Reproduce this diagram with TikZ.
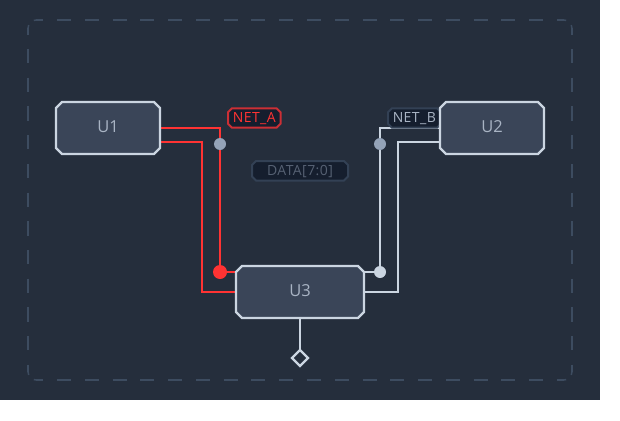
\documentclass[tikz,border=0pt]{standalone}
\usepackage{fontspec}
\setmainfont{Open Sans}
\newfontfamily\tagfont[LetterSpace=3]{Open Sans}
\definecolor{bgc}{HTML}{252E3C}
\definecolor{framec}{HTML}{3D4C60}
\definecolor{boxfill}{HTML}{3A4558}
\definecolor{boxline}{HTML}{CBD5E1}
\definecolor{boxtext}{HTML}{A9B4C4}
\definecolor{redw}{HTML}{FF3333}
\definecolor{redtag}{HTML}{CC2F35}
\definecolor{tagfill}{HTML}{151E2E}
\definecolor{tagline}{HTML}{334155}
\definecolor{greydot}{HTML}{94A3B8}
\definecolor{datatext}{HTML}{566173}
\newcommand\chamfer[5]{({#1+#5},#2) -- ({#3-#5},#2) -- (#3,{#2+#5}) -- (#3,{#4-#5}) -- ({#3-#5},#4) -- ({#1+#5},#4) -- (#1,{#4-#5}) -- (#1,{#2+#5}) -- cycle}
\tikzset{
  x=1pt,y=-1pt,
  chipshape/.style={draw=boxline,fill=boxfill,line width=2.4pt},
  chiplabel/.style={rectangle,inner sep=0pt,text=boxtext,text height=12pt,text depth=3pt,
    font=\fontsize{16.5}{19}\selectfont,anchor=center},
  tagshape/.style={fill=tagfill,line width=2pt},
  taglabel/.style={rectangle,inner sep=0pt,font=\tagfont\fontsize{14}{16}\selectfont,anchor=center},
  redwire/.style={draw=redw,line width=2.4pt,line join=miter},
  greywire/.style={draw=boxline,line width=2.4pt,line join=miter},
  pin/.style={circle,inner sep=0pt,minimum size=12pt,fill=greydot},
  framedash/.style={draw=framec,line width=1.5pt},
}
\begin{document}
\begin{tikzpicture}
\useasboundingbox (0,0) rectangle (620,420);
\fill[white] (0,0) rectangle (620,420);
\fill[bgc] (0,0) rectangle (600,400);
% dashed frame
\draw[framedash,dash pattern=on 14pt off 13.78pt,dash phase=6.8pt] (36,20) -- (564,20);
\draw[framedash,dash pattern=on 14pt off 13.78pt,dash phase=6.8pt] (36,380) -- (564,380);
\draw[framedash,dash pattern=on 14.3pt off 14.4pt,dash phase=7.7pt] (28,28) -- (28,372);
\draw[framedash,dash pattern=on 14.3pt off 14.4pt,dash phase=7.7pt] (572,28) -- (572,372);
\draw[framedash] (28,28.5) -- (28.7,25);
\draw[framedash] (36.5,20) -- (33.8,20.4);
\draw[framedash] (571.9,28.5) -- (571.3,25);
\draw[framedash] (563.5,20) -- (566.2,20.4);
\draw[framedash] (28,371.5) -- (28.7,375);
\draw[framedash] (36.5,380) -- (33.8,379.6);
\draw[framedash] (572,371.5) -- (571.3,375);
\draw[framedash] (563.5,380) -- (566.2,379.6);
% ports and corners
\coordinate (a1) at (160,128); \coordinate (a2) at (220,128);
\coordinate (b1) at (160,142); \coordinate (b2) at (202,142); \coordinate (b3) at (202,292); \coordinate (b4) at (236,292);
\coordinate (c1) at (364,272); \coordinate (c3) at (380,128); \coordinate (c4) at (440,128);
\coordinate (d1) at (364,292); \coordinate (d2) at (398,292); \coordinate (d3) at (398,142); \coordinate (d4) at (440,142);
\coordinate (e1) at (236,272);
\coordinate (rc) at (220,272); \coordinate (lc) at (380,272);
\draw[redwire] (a1) -- (a2) -- (rc) -- (e1);
\draw[redwire] (b1) -- (b2) -- (b3) -- (b4);
\draw[greywire] (c1) -- (lc) -- (c3) -- (c4);
\draw[greywire] (d1) -- (d2) -- (d3) -- (d4);
\node[pin,minimum size=14pt,fill=redw] (rd) at (rc) {};
\node[pin,fill=boxline] (ld) at (lc) {};
\node[pin] (ga) at (220,144) {};
\node[pin] (gb) at (380,144) {};
\path[tagshape,draw=redtag] \chamfer{228}{108.3}{280.5}{127.7}{4};
\node[taglabel,text=redw] (na) at (254.3,118.5) {NET\_A};
\path[tagshape,draw=tagline] \chamfer{388}{108.3}{441}{127.7}{4};
\node[taglabel,text=boxtext] (nb) at (414.3,118.5) {NET\_B};
\path[tagshape,draw=tagline] \chamfer{252}{161}{348}{180.5}{4};
\node[taglabel,text=datatext] (nd) at (300,171.5) {DATA[7:0]};
\path[chipshape] \chamfer{56}{102}{160}{154}{6};
\node[chiplabel,minimum width=104pt,minimum height=52pt] (U1) at (108,128) {U1};
\path[chipshape] \chamfer{440}{102}{544}{154}{6};
\node[chiplabel,minimum width=104pt,minimum height=52pt] (U2) at (492,128) {U2};
\path[chipshape] \chamfer{236}{266}{364}{318}{6};
\node[chiplabel,minimum width=128pt,minimum height=52pt] (U3) at (300,292) {U3};
\coordinate (dmtop) at (300,350);
\draw[greywire] (U3.south) -- (dmtop);
\draw[draw=boxline,line width=2.2pt] (dmtop) -- (308,358) -- (300,366) -- (292,358) -- cycle;
\end{tikzpicture}
\end{document}
